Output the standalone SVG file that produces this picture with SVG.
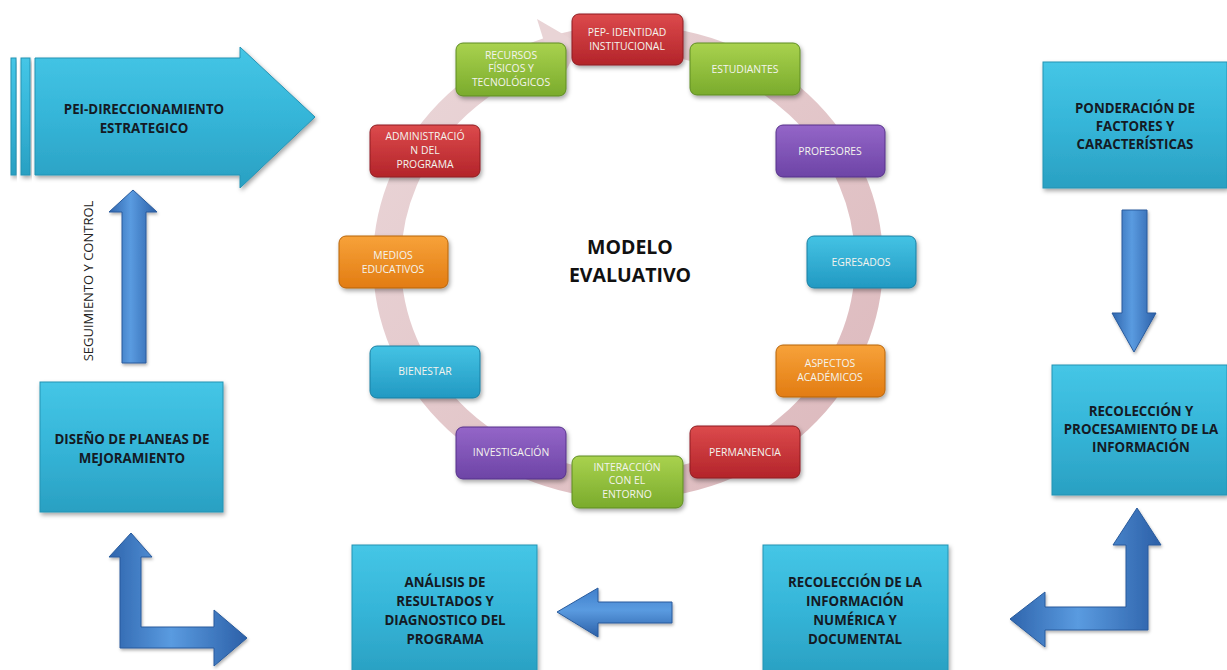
<svg xmlns="http://www.w3.org/2000/svg" width="1227" height="670" viewBox="0 0 1227 670">
<defs>
<style>
.big{font-family:"Open Sans","Liberation Sans",sans-serif;font-weight:bold;font-size:13.3px;fill:#141a24;text-anchor:middle}
.sm{font-family:"Open Sans","Liberation Sans",sans-serif;font-size:10.4px;fill:#f4f4ee;text-anchor:middle}
.title{font-family:"Open Sans","Liberation Sans",sans-serif;font-weight:bold;font-size:19.5px;fill:#111;text-anchor:middle}
.lab{font-family:"Open Sans","Liberation Sans",sans-serif;font-size:13px;fill:#222;text-anchor:middle}
.cy{fill:url(#gCyan);stroke:#2593b4;stroke-width:1;filter:url(#sh)}
.ar{fill:url(#gBlue);stroke:#285a9c;stroke-width:1;filter:url(#sh2)}
.ar2{fill:url(#gBlueH);stroke:#285a9c;stroke-width:1;filter:url(#sh2)}
.red{fill:url(#gRed);stroke:#8e1c20;stroke-width:1;filter:url(#sh)}
.grn{fill:url(#gGrn);stroke:#5e8c22;stroke-width:1;filter:url(#sh)}
.pur{fill:url(#gPur);stroke:#56318a;stroke-width:1;filter:url(#sh)}
.org{fill:url(#gOrg);stroke:#b8650c;stroke-width:1;filter:url(#sh)}
.blu{fill:url(#gBlu);stroke:#1a7fa2;stroke-width:1;filter:url(#sh)}
</style>
<filter id="sh" x="-20%" y="-20%" width="140%" height="150%"><feDropShadow dx="1.5" dy="2.5" stdDeviation="2" flood-color="#000" flood-opacity="0.35"/></filter>
<filter id="sh2" x="-20%" y="-20%" width="140%" height="150%"><feDropShadow dx="1" dy="2" stdDeviation="1.5" flood-color="#000" flood-opacity="0.3"/></filter>
<linearGradient id="gCyan" x1="0" y1="0" x2="0" y2="1"><stop offset="0" stop-color="#45c6e6"/><stop offset="0.5" stop-color="#35b5d8"/><stop offset="1" stop-color="#2aa0c2"/></linearGradient>
<linearGradient id="gBlue" x1="0" y1="0" x2="1" y2="0"><stop offset="0" stop-color="#2f65ad"/><stop offset="0.45" stop-color="#5a9be0"/><stop offset="1" stop-color="#2c60a8"/></linearGradient>
<linearGradient id="gBlueH" x1="0" y1="0" x2="0" y2="1"><stop offset="0" stop-color="#3f7fcb"/><stop offset="0.45" stop-color="#5a9be0"/><stop offset="1" stop-color="#2c60a8"/></linearGradient>
<linearGradient id="gRed" x1="0" y1="0" x2="0" y2="1"><stop offset="0" stop-color="#dc4a4c"/><stop offset="1" stop-color="#b3242a"/></linearGradient>
<linearGradient id="gGrn" x1="0" y1="0" x2="0" y2="1"><stop offset="0" stop-color="#a9d24e"/><stop offset="1" stop-color="#7aab2c"/></linearGradient>
<linearGradient id="gPur" x1="0" y1="0" x2="0" y2="1"><stop offset="0" stop-color="#9466c8"/><stop offset="1" stop-color="#6d44a6"/></linearGradient>
<linearGradient id="gOrg" x1="0" y1="0" x2="0" y2="1"><stop offset="0" stop-color="#f7a23a"/><stop offset="1" stop-color="#e27c12"/></linearGradient>
<linearGradient id="gBlu" x1="0" y1="0" x2="0" y2="1"><stop offset="0" stop-color="#44c3e4"/><stop offset="1" stop-color="#2299c2"/></linearGradient>
<linearGradient id="gRing" x1="400" y1="40" x2="860" y2="500" gradientUnits="userSpaceOnUse"><stop offset="0" stop-color="#ead6d8"/><stop offset="1" stop-color="#dcb8bc"/></linearGradient>
</defs>
<rect width="1227" height="670" fill="#fff"/>

<g id="ciclo">
<ellipse cx="628" cy="262" rx="241" ry="223" fill="none" stroke="url(#gRing)" stroke-width="28"/>
<polygon points="537,19 580,44 558,86" fill="#e9d4d6"/>
</g>

<g id="connectors">
<polygon class="ar" points="122,363 122,212 109,212 133,190 157,212 146,212 146,363"/>
<polygon class="ar" points="120,648 120,557 109,557 131,533 152,557 141,557 141,627 214,627 214,610 247,638 214,666 214,648"/>
<polygon class="ar2" points="672,602 598,602 598,588 557,612 598,637 598,623 672,623"/>
<polygon class="ar" points="1148,630 1045,630 1045,647 1010,619 1045,592 1045,607 1126,607 1126,545 1113,545 1137,508 1161,545 1148,545"/>
<polygon class="ar" points="1122,210 1147,210 1147,313 1156,313 1134,352 1112,313 1122,313"/>
<text class="lab" transform="translate(93,281) rotate(-90)">SEGUIMIENTO Y CONTROL</text>
</g>

<g id="pei">
<rect class="cy" x="11" y="58" width="5" height="117"/>
<rect class="cy" x="21" y="58" width="9" height="117"/>
<polygon class="cy" points="35,58 240,58 240,47 315,117 240,188 240,175 35,175"/>
<text class="big" x="144" y="114">PEI-DIRECCIONAMIENTO</text>
<text class="big" x="144" y="133">ESTRATEGICO</text>
</g>

<g id="ponderacion">
<rect class="cy" x="1043" y="62" width="184" height="126"/>
<text class="big" x="1135" y="113">PONDERACIÓN DE</text>
<text class="big" x="1135" y="131">FACTORES Y</text>
<text class="big" x="1135" y="149">CARACTERÍSTICAS</text>
</g>

<g id="recoleccion-procesamiento">
<rect class="cy" x="1052" y="365" width="175" height="130"/>
<text class="big" x="1141" y="416">RECOLECCIÓN Y</text>
<text class="big" x="1141" y="434">PROCESAMIENTO DE LA</text>
<text class="big" x="1141" y="452">INFORMACIÓN</text>
</g>

<g id="recoleccion-numerica">
<rect class="cy" x="763" y="545" width="185" height="130"/>
<text class="big" x="855" y="587">RECOLECCIÓN DE LA</text>
<text class="big" x="855" y="606">INFORMACIÓN</text>
<text class="big" x="855" y="625">NUMÉRICA Y</text>
<text class="big" x="855" y="644">DOCUMENTAL</text>
</g>

<g id="analisis">
<rect class="cy" x="352" y="545" width="185" height="130"/>
<text class="big" x="445" y="587">ANÁLISIS DE</text>
<text class="big" x="445" y="606">RESULTADOS Y</text>
<text class="big" x="445" y="625">DIAGNOSTICO DEL</text>
<text class="big" x="445" y="644">PROGRAMA</text>
</g>

<g id="diseno">
<rect class="cy" x="40" y="382" width="183" height="130"/>
<text class="big" x="132" y="444">DISEÑO DE PLANEAS DE</text>
<text class="big" x="132" y="463">MEJORAMIENTO</text>
</g>

<g id="modelo">
<text class="title" x="630" y="254">MODELO</text>
<text class="title" x="630" y="282">EVALUATIVO</text>
</g>

<g id="pep"><rect class="red" x="572" y="14" width="111" height="51" rx="7"/>
<text class="sm" x="627" y="36">PEP- IDENTIDAD</text><text class="sm" x="627" y="50">INSTITUCIONAL</text></g>
<g id="recursos"><rect class="grn" x="456" y="43" width="110" height="53" rx="7"/>
<text class="sm" x="511" y="59">RECURSOS</text><text class="sm" x="511" y="72">FÍSICOS Y</text><text class="sm" x="511" y="86">TECNOLÓGICOS</text></g>
<g id="estudiantes"><rect class="grn" x="690" y="43" width="110" height="52" rx="7"/>
<text class="sm" x="745" y="73">ESTUDIANTES</text></g>
<g id="profesores"><rect class="pur" x="776" y="125" width="109" height="52" rx="7"/>
<text class="sm" x="830" y="155">PROFESORES</text></g>
<g id="administracion"><rect class="red" x="370" y="125" width="110" height="52" rx="7"/>
<text class="sm" x="425" y="140">ADMINISTRACIÓ</text><text class="sm" x="425" y="154">N DEL</text><text class="sm" x="425" y="168">PROGRAMA</text></g>
<g id="medios"><rect class="org" x="339" y="236" width="109" height="52" rx="7"/>
<text class="sm" x="393" y="259">MEDIOS</text><text class="sm" x="393" y="273">EDUCATIVOS</text></g>
<g id="egresados"><rect class="blu" x="807" y="236" width="109" height="52" rx="7"/>
<text class="sm" x="861" y="266">EGRESADOS</text></g>
<g id="bienestar"><rect class="blu" x="370" y="346" width="110" height="52" rx="7"/>
<text class="sm" x="425" y="375">BIENESTAR</text></g>
<g id="aspectos"><rect class="org" x="776" y="345" width="109" height="52" rx="7"/>
<text class="sm" x="830" y="367">ASPECTOS</text><text class="sm" x="830" y="381">ACADÉMICOS</text></g>
<g id="investigacion"><rect class="pur" x="456" y="427" width="110" height="52" rx="7"/>
<text class="sm" x="511" y="456">INVESTIGACIÓN</text></g>
<g id="permanencia"><rect class="red" x="690" y="426" width="110" height="52" rx="7"/>
<text class="sm" x="745" y="456">PERMANENCIA</text></g>
<g id="interaccion"><rect class="grn" x="572" y="456" width="111" height="52" rx="7"/>
<text class="sm" x="627" y="471">INTERACCIÓN</text><text class="sm" x="627" y="484">CON EL</text><text class="sm" x="627" y="498">ENTORNO</text></g>
</svg>
